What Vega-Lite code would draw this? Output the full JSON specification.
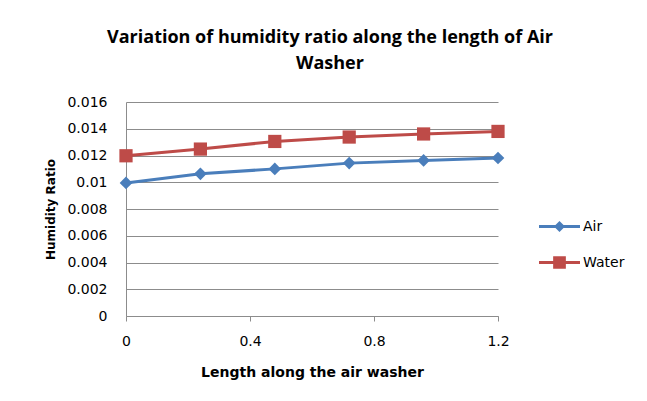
{
  "$schema": "https://vega.github.io/schema/vega-lite/v6.json",
  "width": 372,
  "height": 214,
  "autosize": {"type": "none"},
  "padding": {"left": 126, "top": 102, "right": 149, "bottom": 85},
  "background": "white",
  "title": {
    "text": ["Variation of humidity ratio along the length of Air", "Washer"],
    "font": "Open Sans",
    "fontSize": 18,
    "fontWeight": "bold",
    "color": "#000000",
    "anchor": "middle",
    "dx": 18,
    "offset": 22,
    "lineHeight": 26
  },
  "data": {
    "values": [
      {"length": 0, "ratio": 0.00995, "series": "Air"},
      {"length": 0.24, "ratio": 0.01063, "series": "Air"},
      {"length": 0.48, "ratio": 0.0110, "series": "Air"},
      {"length": 0.72, "ratio": 0.01143, "series": "Air"},
      {"length": 0.96, "ratio": 0.01163, "series": "Air"},
      {"length": 1.2, "ratio": 0.01181, "series": "Air"},
      {"length": 0, "ratio": 0.01198, "series": "Water"},
      {"length": 0.24, "ratio": 0.01248, "series": "Water"},
      {"length": 0.48, "ratio": 0.01305, "series": "Water"},
      {"length": 0.72, "ratio": 0.01338, "series": "Water"},
      {"length": 0.96, "ratio": 0.01361, "series": "Water"},
      {"length": 1.2, "ratio": 0.0138, "series": "Water"}
    ]
  },
  "encoding": {
    "x": {
      "field": "length",
      "type": "quantitative",
      "scale": {"domain": [0, 1.2], "nice": false, "zero": false},
      "axis": {
        "title": "Length along the air washer",
        "values": [0, 0.4, 0.8, 1.2],
        "format": ".1~f",
        "grid": false,
        "labelFlush": false,
        "domainColor": "#8c8c8c",
        "tickColor": "#8c8c8c",
        "tickSize": 5,
        "labelPadding": 13,
        "labelFont": "DejaVu Sans",
        "labelFontSize": 14,
        "labelColor": "#000000",
        "titleFont": "DejaVu Sans",
        "titleFontSize": 14,
        "titleFontWeight": "bold",
        "titleColor": "#000000",
        "titlePadding": 17
      }
    },
    "y": {
      "field": "ratio",
      "type": "quantitative",
      "scale": {"domain": [0, 0.016], "nice": false},
      "axis": {
        "title": "Humidity Ratio",
        "values": [0, 0.002, 0.004, 0.006, 0.008, 0.01, 0.012, 0.014, 0.016],
        "format": ".3~f",
        "grid": true,
        "gridColor": "#8c8c8c",
        "gridWidth": 1,
        "ticks": false,
        "tickSize": 0,
        "domainColor": "#8c8c8c",
        "labelPadding": 19,
        "labelFont": "DejaVu Sans",
        "labelFontSize": 14,
        "labelColor": "#000000",
        "titleFont": "DejaVu Sans",
        "titleFontSize": 12,
        "titleFontWeight": "bold",
        "titleColor": "#000000",
        "titlePadding": 9
      }
    },
    "color": {
      "field": "series",
      "type": "nominal",
      "scale": {"domain": ["Air", "Water"], "range": ["#4A7EBB", "#BE4B48"]},
      "legend": {
        "title": null,
        "orient": "none",
        "legendX": 413,
        "legendY": 104,
        "labelFont": "DejaVu Sans",
        "labelFontSize": 14,
        "labelColor": "#000000",
        "symbolSize": 1680,
        "rowPadding": 8,
        "labelOffset": 3,
        "encode": {
          "symbols": {
            "update": {
              "shape": {"signal": "datum.value === 'Air' ? 'M-1,-0.075H1V0.075H-1Z M0,-0.27L0.27,0L0,0.27L-0.27,0Z' : 'M-1,-0.075H1V0.075H-1Z M-0.31,-0.31H0.31V0.31H-0.31Z'"},
              "fill": {"signal": "scale('color', datum.value)"},
              "fillOpacity": {"value": 1},
              "strokeWidth": {"value": 0},
              "size": {"value": 1680}
            }
          }
        }
      }
    }
  },
  "layer": [
    {"mark": {"type": "line", "strokeWidth": 3}},
    {
      "transform": [{"filter": "datum.series === 'Air'"}],
      "mark": {"type": "point", "filled": true, "opacity": 1, "shape": "diamond", "size": 160}
    },
    {
      "transform": [{"filter": "datum.series === 'Water'"}],
      "mark": {"type": "point", "filled": true, "opacity": 1, "shape": "square", "size": 175}
    }
  ],
  "config": {"view": {"stroke": null}}
}
